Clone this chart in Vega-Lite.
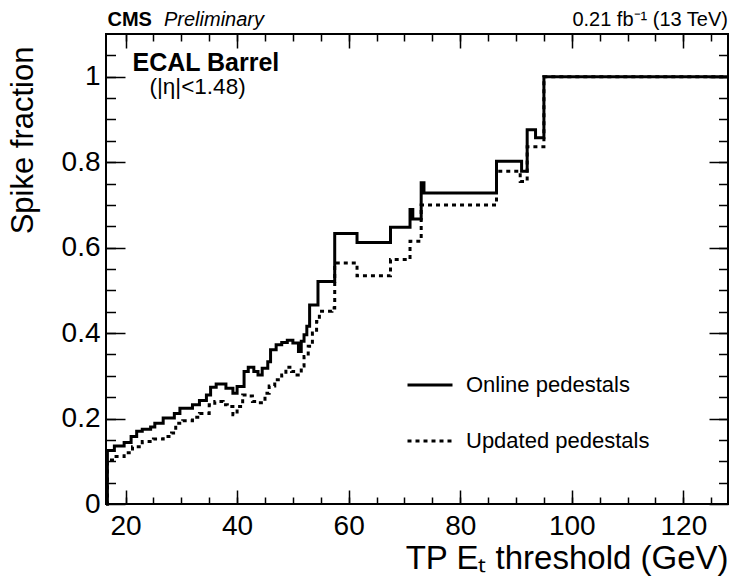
{
  "$schema": "https://vega.github.io/schema/vega-lite/v6.json",
  "width": 622,
  "height": 470,
  "autosize": {"type": "none"},
  "padding": {"left": 106, "top": 34, "right": 2, "bottom": 79},
  "config": {
    "view": {"stroke": "black", "strokeWidth": 2},
    "font": "Liberation Sans",
    "axis": {"grid": false, "domain": false, "tickColor": "black", "labelColor": "black", "titleColor": "black", "tickWidth": 1.5, "labelFlush": false, "labelOverlap": false, "titleFontWeight": "normal", "labelFont": "Liberation Sans", "titleFont": "Liberation Sans"},
    "legend": {"labelFont": "Liberation Sans"}
  },
  "datasets": {
    "curves": [
      {"series": "Online pedestals", "et": 16.5, "frac": 0},
      {"series": "Online pedestals", "et": 16.75, "frac": 0.125},
      {"series": "Online pedestals", "et": 18, "frac": 0.136},
      {"series": "Online pedestals", "et": 19.75, "frac": 0.144},
      {"series": "Online pedestals", "et": 21, "frac": 0.158},
      {"series": "Online pedestals", "et": 22, "frac": 0.17},
      {"series": "Online pedestals", "et": 23, "frac": 0.175},
      {"series": "Online pedestals", "et": 24.5, "frac": 0.18},
      {"series": "Online pedestals", "et": 25.25, "frac": 0.189},
      {"series": "Online pedestals", "et": 26.75, "frac": 0.201},
      {"series": "Online pedestals", "et": 28.75, "frac": 0.212},
      {"series": "Online pedestals", "et": 29.75, "frac": 0.224},
      {"series": "Online pedestals", "et": 32, "frac": 0.232},
      {"series": "Online pedestals", "et": 33.25, "frac": 0.242},
      {"series": "Online pedestals", "et": 34.5, "frac": 0.255},
      {"series": "Online pedestals", "et": 35.25, "frac": 0.273},
      {"series": "Online pedestals", "et": 36.25, "frac": 0.281},
      {"series": "Online pedestals", "et": 38, "frac": 0.271},
      {"series": "Online pedestals", "et": 39.25, "frac": 0.259},
      {"series": "Online pedestals", "et": 40, "frac": 0.275},
      {"series": "Online pedestals", "et": 41.25, "frac": 0.31},
      {"series": "Online pedestals", "et": 42, "frac": 0.32},
      {"series": "Online pedestals", "et": 43, "frac": 0.31},
      {"series": "Online pedestals", "et": 43.75, "frac": 0.302},
      {"series": "Online pedestals", "et": 44.5, "frac": 0.318},
      {"series": "Online pedestals", "et": 45.5, "frac": 0.333},
      {"series": "Online pedestals", "et": 46, "frac": 0.361},
      {"series": "Online pedestals", "et": 47, "frac": 0.373},
      {"series": "Online pedestals", "et": 48, "frac": 0.378},
      {"series": "Online pedestals", "et": 49, "frac": 0.383},
      {"series": "Online pedestals", "et": 50, "frac": 0.377},
      {"series": "Online pedestals", "et": 51, "frac": 0.357},
      {"series": "Online pedestals", "et": 51.5, "frac": 0.381},
      {"series": "Online pedestals", "et": 52, "frac": 0.396},
      {"series": "Online pedestals", "et": 52.5, "frac": 0.416},
      {"series": "Online pedestals", "et": 53, "frac": 0.466},
      {"series": "Online pedestals", "et": 54.5, "frac": 0.521},
      {"series": "Online pedestals", "et": 57.5, "frac": 0.633},
      {"series": "Online pedestals", "et": 61.5, "frac": 0.612},
      {"series": "Online pedestals", "et": 67.5, "frac": 0.648},
      {"series": "Online pedestals", "et": 71, "frac": 0.689},
      {"series": "Online pedestals", "et": 71.5, "frac": 0.667},
      {"series": "Online pedestals", "et": 73, "frac": 0.752},
      {"series": "Online pedestals", "et": 73.5, "frac": 0.728},
      {"series": "Online pedestals", "et": 86.5, "frac": 0.802},
      {"series": "Online pedestals", "et": 91, "frac": 0.779},
      {"series": "Online pedestals", "et": 92, "frac": 0.876},
      {"series": "Online pedestals", "et": 93.5, "frac": 0.857},
      {"series": "Online pedestals", "et": 95, "frac": 1.0},
      {"series": "Online pedestals", "et": 128, "frac": 1.0},
      {"series": "Updated pedestals", "et": 16.5, "frac": 0},
      {"series": "Updated pedestals", "et": 16.75, "frac": 0.103},
      {"series": "Updated pedestals", "et": 18, "frac": 0.111},
      {"series": "Updated pedestals", "et": 19.75, "frac": 0.12},
      {"series": "Updated pedestals", "et": 21.25, "frac": 0.134},
      {"series": "Updated pedestals", "et": 23, "frac": 0.146},
      {"series": "Updated pedestals", "et": 25, "frac": 0.152},
      {"series": "Updated pedestals", "et": 26.75, "frac": 0.158},
      {"series": "Updated pedestals", "et": 28.25, "frac": 0.166},
      {"series": "Updated pedestals", "et": 29, "frac": 0.189},
      {"series": "Updated pedestals", "et": 30.25, "frac": 0.195},
      {"series": "Updated pedestals", "et": 32, "frac": 0.203},
      {"series": "Updated pedestals", "et": 33.25, "frac": 0.212},
      {"series": "Updated pedestals", "et": 35, "frac": 0.232},
      {"series": "Updated pedestals", "et": 36, "frac": 0.24},
      {"series": "Updated pedestals", "et": 37.5, "frac": 0.232},
      {"series": "Updated pedestals", "et": 38.25, "frac": 0.228},
      {"series": "Updated pedestals", "et": 39.25, "frac": 0.209},
      {"series": "Updated pedestals", "et": 40, "frac": 0.228},
      {"series": "Updated pedestals", "et": 41, "frac": 0.255},
      {"series": "Updated pedestals", "et": 42, "frac": 0.253},
      {"series": "Updated pedestals", "et": 42.75, "frac": 0.24},
      {"series": "Updated pedestals", "et": 43.75, "frac": 0.237},
      {"series": "Updated pedestals", "et": 45, "frac": 0.259},
      {"series": "Updated pedestals", "et": 45.75, "frac": 0.276},
      {"series": "Updated pedestals", "et": 46.75, "frac": 0.291},
      {"series": "Updated pedestals", "et": 48, "frac": 0.302},
      {"series": "Updated pedestals", "et": 48.75, "frac": 0.32},
      {"series": "Updated pedestals", "et": 49.75, "frac": 0.31},
      {"series": "Updated pedestals", "et": 50.75, "frac": 0.302},
      {"series": "Updated pedestals", "et": 51.5, "frac": 0.323},
      {"series": "Updated pedestals", "et": 52, "frac": 0.345},
      {"series": "Updated pedestals", "et": 52.75, "frac": 0.369},
      {"series": "Updated pedestals", "et": 53.5, "frac": 0.4},
      {"series": "Updated pedestals", "et": 54.25, "frac": 0.427},
      {"series": "Updated pedestals", "et": 54.75, "frac": 0.451},
      {"series": "Updated pedestals", "et": 57, "frac": 0.459},
      {"series": "Updated pedestals", "et": 57.5, "frac": 0.564},
      {"series": "Updated pedestals", "et": 61.5, "frac": 0.534},
      {"series": "Updated pedestals", "et": 67.5, "frac": 0.572},
      {"series": "Updated pedestals", "et": 71, "frac": 0.615},
      {"series": "Updated pedestals", "et": 73, "frac": 0.7},
      {"series": "Updated pedestals", "et": 86.5, "frac": 0.779},
      {"series": "Updated pedestals", "et": 90.75, "frac": 0.755},
      {"series": "Updated pedestals", "et": 92, "frac": 0.836},
      {"series": "Updated pedestals", "et": 95, "frac": 1.0},
      {"series": "Updated pedestals", "et": 128, "frac": 1.0}
    ]
  },
  "layer": [
    {
      "data": {"name": "curves"},
      "mark": {"type": "line", "interpolate": "step-after", "color": "black", "strokeWidth": 3},
      "encoding": {
        "x": {"field": "et", "type": "quantitative", "scale": {"domain": [16.5, 128], "nice": false, "zero": false},
          "axis": {"orient": "bottom", "offset": 0, "values": [20, 40, 60, 80, 100, 120], "tickSize": -14, "labelPadding": 22, "labelFontSize": 28,
            "title": "TP Eₜ threshold (GeV)", "titleFontSize": 33, "titleAnchor": "end", "titleAlign": "right", "titleBaseline": "alphabetic", "titleX": 622, "titleY": 64}},
        "y": {"field": "frac", "type": "quantitative", "scale": {"domain": [0, 1.1], "nice": false, "zero": false},
          "axis": {"orient": "left", "offset": 0, "values": [0, 0.2, 0.4, 0.6, 0.8, 1], "format": "~g", "tickSize": -19, "labelPadding": 25, "labelFontSize": 28,
            "title": "Spike fraction", "titleFontSize": 31, "titleAngle": 270, "titleAnchor": "end", "titleAlign": "right", "titleBaseline": "alphabetic", "titleX": -74, "titleY": 12}},
        "order": {"field": "series"},
        "strokeDash": {"field": "series", "type": "nominal",
          "scale": {"domain": ["Online pedestals", "Updated pedestals"], "range": [[1, 0], [4, 4]]},
          "legend": {"orient": "none", "legendX": 300, "legendY": 327, "title": null, "symbolType": "stroke", "symbolSize": 2025, "symbolStrokeWidth": 3, "symbolStrokeColor": "black", "labelFontSize": 22, "labelOffset": 12, "labelLimit": 0, "rowPadding": 21, "padding": 0, "labelColor": "black"}}
      }
    },
    {
      "data": {"values": [{}]},
      "mark": {"type": "text", "text": "CMS", "fontWeight": "bold", "fontSize": 20, "align": "left", "baseline": "alphabetic", "dy": -8, "dx": 1.5, "clip": false},
      "encoding": {
        "x": {"datum": 16.5, "type": "quantitative", "scale": {"domain": [16.5, 128], "nice": false, "zero": false},
          "axis": {"orient": "bottom", "offset": 0, "values": [20, 25, 30, 35, 40, 45, 50, 55, 60, 65, 70, 75, 80, 85, 90, 95, 100, 105, 110, 115, 120, 125], "tickSize": -7, "labels": false, "title": null}},
        "y": {"datum": 1.1, "type": "quantitative", "scale": {"domain": [0, 1.1], "nice": false, "zero": false},
          "axis": {"orient": "left", "offset": 0, "values": [0.05, 0.1, 0.15, 0.2, 0.25, 0.3, 0.35, 0.4, 0.45, 0.5, 0.55, 0.6, 0.65, 0.7, 0.75, 0.8, 0.85, 0.9, 0.95, 1, 1.05], "tickSize": -9.5, "labels": false, "title": null}}
      }
    },
    {
      "data": {"values": [{}]},
      "mark": {"type": "text", "text": "Preliminary", "fontStyle": "italic", "fontSize": 20, "align": "left", "baseline": "alphabetic", "dy": -8, "dx": 58, "clip": false},
      "encoding": {
        "x": {"datum": 16.5, "type": "quantitative", "scale": {"domain": [16.5, 128], "nice": false, "zero": false},
          "axis": {"orient": "top", "offset": 0, "values": [20, 40, 60, 80, 100, 120], "tickSize": -14, "labels": false, "title": null}},
        "y": {"datum": 1.1, "type": "quantitative", "scale": {"domain": [0, 1.1], "nice": false, "zero": false},
          "axis": {"orient": "right", "offset": 0, "values": [0, 0.2, 0.4, 0.6, 0.8, 1], "tickSize": -19, "labels": false, "title": null}}
      }
    },
    {
      "data": {"values": [{}]},
      "mark": {"type": "text", "text": "0.21 fb⁻¹ (13 TeV)", "fontSize": 20, "align": "right", "baseline": "alphabetic", "dy": -8, "clip": false},
      "encoding": {
        "x": {"datum": 128, "type": "quantitative", "scale": {"domain": [16.5, 128], "nice": false, "zero": false},
          "axis": {"orient": "top", "offset": 0, "values": [20, 25, 30, 35, 40, 45, 50, 55, 60, 65, 70, 75, 80, 85, 90, 95, 100, 105, 110, 115, 120, 125], "tickSize": -7, "labels": false, "title": null}},
        "y": {"datum": 1.1, "type": "quantitative", "scale": {"domain": [0, 1.1], "nice": false, "zero": false},
          "axis": {"orient": "right", "offset": 0, "values": [0.05, 0.1, 0.15, 0.2, 0.25, 0.3, 0.35, 0.4, 0.45, 0.5, 0.55, 0.6, 0.65, 0.7, 0.75, 0.8, 0.85, 0.9, 0.95, 1, 1.05], "tickSize": -9.5, "labels": false, "title": null}}
      }
    },
    {
      "data": {"values": [{}]},
      "mark": {"type": "text", "text": "ECAL Barrel", "fontWeight": "bold", "fontSize": 25, "align": "left", "baseline": "middle"},
      "encoding": {
        "x": {"datum": 21.25, "type": "quantitative", "axis": null},
        "y": {"datum": 1.032, "type": "quantitative", "axis": null}
      }
    },
    {
      "data": {"values": [{}]},
      "mark": {"type": "text", "text": "(|η|<1.48)", "fontSize": 22.5, "align": "left", "baseline": "middle"},
      "encoding": {
        "x": {"datum": 24.3, "type": "quantitative", "axis": null},
        "y": {"datum": 0.975, "type": "quantitative", "axis": null}
      }
    }
  ],
  "resolve": {"axis": {"x": "independent", "y": "independent"}}
}
